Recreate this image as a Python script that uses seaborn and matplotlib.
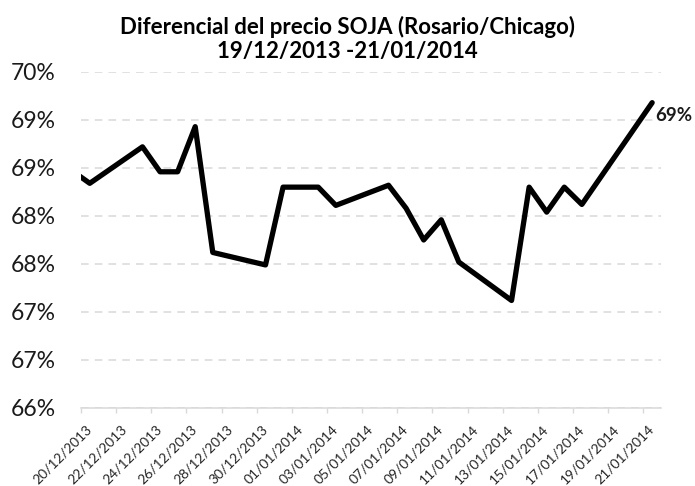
import math

import matplotlib
matplotlib.use("Agg")
import matplotlib.pyplot as plt
import matplotlib.dates as mdates
import matplotlib.ticker as mticker
import numpy as np
import pandas as pd
import seaborn as sns

# ── Data ──────────────────────────────────────────────────────────────────────
TITLE = "Diferencial del precio SOJA (Rosario/Chicago)\n19/12/2013 -21/01/2014"

dates = [
    "2013-12-19", "2013-12-20", "2013-12-23", "2013-12-24", "2013-12-25",
    "2013-12-26", "2013-12-27", "2013-12-30", "2013-12-31", "2014-01-02",
    "2014-01-03", "2014-01-06", "2014-01-07", "2014-01-08", "2014-01-09",
    "2014-01-10", "2014-01-13", "2014-01-14", "2014-01-15", "2014-01-16",
    "2014-01-17", "2014-01-21",
]
# differential, in percent
diff_pct = [
    68.97, 68.84, 69.22, 68.96, 68.96,
    69.43, 68.12, 67.99, 68.80, 68.80,
    68.61, 68.82, 68.58, 68.25, 68.46,
    68.02, 67.62, 68.80, 68.54, 68.80,
    68.62, 69.68,
]

axis_start = "2013-12-20"
axis_end   = "2014-01-21"
y_min, y_max, y_step = 66.5, 70.0, 0.5

df = pd.DataFrame({"fecha": pd.to_datetime(dates), "diff": diff_pct})

# ── Style ─────────────────────────────────────────────────────────────────────
sns.set_theme(style="white")
plt.rcParams["font.family"] = ["Lato", "DejaVu Sans"]

fig = plt.figure(figsize=(6.95, 4.86), dpi=100)
ax = fig.add_axes([0.1165, 0.1605, 0.8345, 0.6915])

sns.lineplot(data=df, x="fecha", y="diff", color="black", linewidth=3.8,
             ax=ax, legend=False)

half_day = pd.Timedelta(hours=12)
x0 = pd.Timestamp(axis_start) - half_day
x1 = pd.Timestamp(axis_end) + half_day
ax.set_xlim(x0, x1)
ax.set_ylim(y_min, y_max)

# labels centred in day slots, tick marks on slot boundaries (every 2 days)
label_days = pd.date_range(axis_start, axis_end, freq="2D")
ax.set_xticks(label_days)
ax.xaxis.set_major_formatter(mdates.DateFormatter("%d/%m/%Y"))
ax.set_xticks(label_days - half_day, minor=True)
ax.tick_params(axis="x", which="major", length=0, pad=14, labelsize=10,
               labelcolor="#262626")
ax.tick_params(axis="x", which="minor", length=3.6, width=1, color="#d9d9d9",
               direction="out")
ax.xaxis.set_tick_params(which="minor", bottom=True)
for lbl in ax.get_xticklabels():
    lbl.set_rotation(45)
    lbl.set_ha("right")
    lbl.set_va("center")
    lbl.set_rotation_mode("anchor")

ax.set_yticks(np.arange(y_min, y_max + y_step / 2, y_step))
ax.yaxis.set_major_formatter(
    mticker.FuncFormatter(lambda v, _: f"{math.floor(v + 1e-9)}%"))
ax.tick_params(axis="y", length=0, pad=18, labelsize=16.5,
               labelcolor="#1a1a1a")

ax.grid(axis="y", color="#d9d9d9", linestyle=(0, (5, 4)), linewidth=1.1)
ax.set_axisbelow(True)
for side in ["left", "right", "top"]:
    ax.spines[side].set_visible(False)
ax.spines["bottom"].set_color("#d9d9d9")
ax.spines["bottom"].set_linewidth(1.1)
ax.set_xlabel("")
ax.set_ylabel("")

# last value label
ax.annotate(f"{math.floor(df['diff'].iloc[-1])}%",
            xy=(df["fecha"].iloc[-1], df["diff"].iloc[-1]),
            xytext=(2, -9), textcoords="offset points",
            ha="left", va="center", fontsize=13.5, fontweight="bold",
            color="#1a1a1a")

fig.text(0.5, 0.968, TITLE, ha="center", va="top", fontsize=16,
         fontweight="bold", color="black", linespacing=1.2)

fig.savefig("out.png", dpi=100)
plt.close(fig)
